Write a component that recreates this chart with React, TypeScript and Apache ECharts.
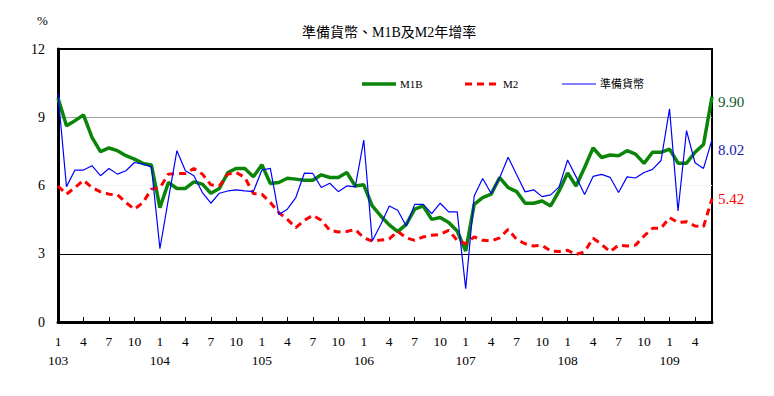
import React, { useEffect, useRef } from "react";
import * as echarts from "echarts";

const years = [103, 104, 105, 106, 107, 108, 109];
const lastYearMonths = 6;

const m1b = [
  9.85, 8.63, 8.85, 9.1, 8.12, 7.49, 7.65, 7.53, 7.31, 7.16, 6.97, 6.9,
  5.03, 6.13, 5.87, 5.87, 6.16, 6.06, 5.66, 5.87, 6.57, 6.75, 6.75, 6.38,
  6.91, 6.09, 6.13, 6.32, 6.28, 6.23, 6.23, 6.47, 6.35, 6.35, 6.57, 5.98,
  6.03, 5.1, 4.66, 4.27, 3.97, 4.29, 4.96, 5.1, 4.51, 4.59, 4.37, 4.0,
  3.12, 5.17, 5.47, 5.62, 6.35, 5.91, 5.73, 5.22, 5.22, 5.32, 5.1, 5.76,
  6.55, 5.98, 6.79, 7.65, 7.23, 7.34, 7.31, 7.53, 7.38, 6.97, 7.46, 7.46,
  7.6, 6.98, 6.98, 7.46, 7.8, 9.9,
];

const m2 = [
  5.98, 5.62, 5.91, 6.23, 5.91, 5.72, 5.62, 5.59, 5.25, 4.96, 5.25, 5.84,
  5.9, 6.5, 6.53, 6.53, 6.75, 6.5, 6.03, 5.98, 6.5, 6.57, 6.35, 5.65,
  5.62, 5.25, 4.81, 4.51, 4.15, 4.47, 4.69, 4.47, 4.03, 3.96, 3.98, 4.07,
  3.7, 3.56, 3.6, 3.65, 3.98, 3.7, 3.59, 3.74, 3.81, 3.85, 4.03, 3.59,
  3.44, 3.74, 3.59, 3.56, 3.7, 4.07, 3.63, 3.44, 3.34, 3.37, 3.12, 3.1,
  3.15, 2.97, 3.09, 3.68, 3.41, 3.09, 3.38, 3.34, 3.38, 3.78, 4.12, 4.12,
  4.59, 4.37, 4.41, 4.22, 4.19, 5.42,
];

const reserveMoney = [
  10.03, 5.95, 6.68, 6.68, 6.87, 6.43, 6.75, 6.5, 6.65, 7.01, 6.94, 6.82,
  3.22, 5.4, 7.53, 6.65, 6.43, 5.69, 5.22, 5.66, 5.76, 5.81, 5.76, 5.73,
  6.68, 6.75, 4.72, 4.96, 5.47, 6.54, 6.53, 5.91, 6.1, 5.73, 5.98, 5.94,
  8.0, 3.56, 4.29, 5.1, 4.91, 4.22, 5.17, 5.17, 4.76, 5.22, 4.84, 4.84,
  1.46, 5.54, 6.31, 5.65, 6.34, 7.24, 6.47, 5.72, 5.81, 5.51, 5.59, 5.94,
  7.12, 6.38, 5.6, 6.4, 6.49, 6.36, 5.69, 6.38, 6.33, 6.57, 6.71, 7.1,
  9.37, 4.88, 8.41, 7.0, 6.75, 8.02,
];

const yTicks = [0, 3, 6, 9, 12];
const seriesNames = ["M1B", "M2", "準備貨幣"];

const categories: string[] = [];
years.forEach((y, yi) => {
  const n = yi === years.length - 1 ? lastYearMonths : 12;
  for (let m = 1; m <= n; m++) categories.push(`${y}/${m}`);
});

const SERIF = "'Liberation Serif', 'Times New Roman', 'Noto Sans CJK TC', serif";
const GREEN = "#0a850a";
const RED = "#ff0000";
const BLUE = "#0000ff";

function legendItem(x: number, name: string, color: string, width: number, dash?: number[]) {
  return {
    type: "group",
    children: [
      {
        type: "line",
        shape: { x1: x, y1: 84, x2: x + 34, y2: 84 },
        style: { stroke: color, lineWidth: width, lineDash: dash || null },
      },
      {
        type: "text",
        x: x + 38,
        y: 84,
        style: {
          text: name,
          fontFamily: SERIF,
          fontSize: 11,
          fill: "#000",
          verticalAlign: "middle",
        },
      },
    ],
  };
}

export default function App() {
  const ref = useRef<HTMLDivElement>(null);
  useEffect(() => {
    if (!ref.current) return;
    const chart = echarts.init(ref.current, undefined, { renderer: "svg" });
    const endLabel = (color: string, dy: number) => ({
      show: true,
      formatter: (p: any) => Number(p.value).toFixed(2),
      color,
      fontFamily: SERIF,
      fontSize: 15,
      distance: 6,
      offset: [0, dy],
    });
    chart.setOption({
      animation: false,
      backgroundColor: "#fff",
      title: {
        text: "準備貨幣、M1B及M2年增率",
        left: 297,
        top: 20,
        textStyle: { fontFamily: SERIF, fontSize: 14, fontWeight: "normal", color: "#000" },
      },
      graphic: [
        {
          type: "text",
          left: 37,
          top: 14,
          style: { text: "%", fontFamily: SERIF, fontSize: 13, fill: "#000" },
        },
        legendItem(362, seriesNames[0], GREEN, 3.5),
        legendItem(465, seriesNames[1], RED, 3, [7, 5]),
        legendItem(562, seriesNames[2], BLUE, 1.2),
      ],
      grid: {
        left: 58,
        right: 62,
        top: 49,
        bottom: 74,
        show: true,
        borderColor: "#000",
        borderWidth: 2,
      },
      xAxis: {
        type: "category",
        data: categories,
        boundaryGap: false,
        axisLine: { lineStyle: { color: "#000", width: 3 } },
        axisTick: {
          show: true,
          inside: true,
          length: 5,
          interval: 2,
          lineStyle: { color: "#000", width: 1 },
        },
        axisLabel: {
          interval: 2,
          margin: 10,
          fontFamily: SERIF,
          fontSize: 13.5,
          lineHeight: 19,
          color: "#000",
          formatter: (v: string) => {
            const [y, m] = v.split("/");
            return m === "1" ? `1\n${y}` : m;
          },
        },
        splitLine: { show: false },
      },
      yAxis: {
        type: "value",
        min: yTicks[0],
        max: yTicks[yTicks.length - 1],
        interval: 3,
        axisLine: { show: true, lineStyle: { color: "#000", width: 3 } },
        axisTick: { show: false },
        axisLabel: {
          margin: 13,
          fontFamily: SERIF,
          fontSize: 14,
          color: "#000",
        },
        splitLine: {
          show: true,
          lineStyle: { color: ["#000", "#000", "#f4f4f4", "#a0a0a0", "#000"], width: 1 },
        },
      },
      series: [
        {
          name: seriesNames[0],
          type: "line",
          data: m1b,
          symbol: "none",
          lineStyle: { color: GREEN, width: 3.5 },
          itemStyle: { color: GREEN },
          endLabel: endLabel("#0b5a2a", 5),
          z: 3,
        },
        {
          name: seriesNames[1],
          type: "line",
          data: m2,
          symbol: "none",
          lineStyle: { color: RED, width: 3, type: [7, 5] },
          itemStyle: { color: RED },
          endLabel: endLabel(RED, 0),
          z: 4,
        },
        {
          name: seriesNames[2],
          type: "line",
          data: reserveMoney,
          symbol: "none",
          lineStyle: { color: BLUE, width: 1.2 },
          itemStyle: { color: BLUE },
          endLabel: endLabel("#1515b0", 10),
          z: 5,
        },
      ],
    });
    return () => chart.dispose();
  }, []);
  return (
    <div
      ref={ref}
      style={{ position: "fixed", left: 0, top: 0, width: 774, height: 396, background: "#fff" }}
    />
  );
}
